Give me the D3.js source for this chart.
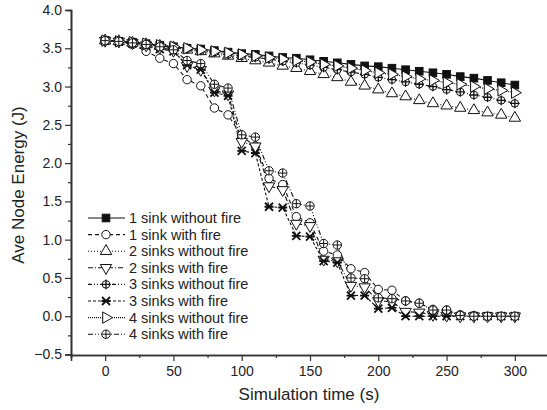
<!DOCTYPE html>
<html>
<head>
<meta charset="utf-8">
<script src="https://cdn.jsdelivr.net/npm/d3@7"></script>
<style>
  body { margin: 0; background: #fff; }
  svg text { font-family: "Liberation Sans", Arial, sans-serif; fill: #222; }
</style>
</head>
<body>
<svg id="chart" width="547" height="410"></svg>
<script>
// sample times (s)
var times = d3.range(0, 301, 10);

// energy per series (J)
var oneSinkNoFire = [3.60, 3.59, 3.58, 3.56, 3.54, 3.52, 3.50, 3.49, 3.47, 3.45, 3.43, 3.42, 3.40, 3.38, 3.37, 3.35,
  3.33, 3.31, 3.29, 3.27, 3.26, 3.24, 3.22, 3.20, 3.18, 3.16, 3.13, 3.11, 3.08, 3.05, 3.02];
var oneSinkFire = [3.60, 3.59, 3.55, 3.46, 3.37, 3.30, 3.09, 3.01, 2.72, 2.63, 2.35, 2.22, 1.80, 1.72, 1.30, 1.22,
  0.85, 0.80, 0.62, 0.57, 0.35, 0.34, 0.20, 0.17, 0.09, 0.08, 0.02, 0.01, 0.0, 0.0, 0.0];
var twoSinksNoFire = [3.60, 3.59, 3.57, 3.55, 3.53, 3.51, 3.48, 3.46, 3.43, 3.40, 3.37, 3.34, 3.31, 3.27, 3.24, 3.20,
  3.16, 3.12, 3.06, 3.01, 2.96, 2.91, 2.87, 2.82, 2.78, 2.75, 2.72, 2.69, 2.66, 2.63, 2.59];
var twoSinksFire = [3.60, 3.59, 3.57, 3.54, 3.51, 3.47, 3.27, 3.22, 2.95, 2.90, 2.28, 2.22, 1.70, 1.65, 1.21, 1.18,
  0.74, 0.72, 0.40, 0.38, 0.20, 0.19, 0.06, 0.05, 0.02, 0.01, 0.0, 0.0, 0.0, 0.0, 0.0];
var threeSinksNoFire = [3.60, 3.59, 3.57, 3.55, 3.53, 3.51, 3.49, 3.47, 3.45, 3.42, 3.40, 3.38, 3.36, 3.33, 3.31, 3.28,
  3.25, 3.22, 3.19, 3.16, 3.12, 3.09, 3.06, 3.03, 3.00, 2.96, 2.93, 2.89, 2.86, 2.82, 2.78];
var threeSinksFire = [3.60, 3.59, 3.56, 3.53, 3.49, 3.46, 3.28, 3.22, 2.92, 2.88, 2.16, 2.13, 1.43, 1.42, 1.05, 1.04,
  0.72, 0.70, 0.27, 0.27, 0.10, 0.11, 0.0, 0.0, 0.0, 0.0, 0.0, 0.0, 0.0, 0.0, 0.0];
var fourSinksNoFire = [3.60, 3.59, 3.58, 3.56, 3.54, 3.52, 3.50, 3.48, 3.46, 3.44, 3.42, 3.40, 3.38, 3.36, 3.34, 3.32,
  3.29, 3.27, 3.24, 3.21, 3.18, 3.16, 3.13, 3.10, 3.08, 3.05, 3.03, 3.00, 2.97, 2.95, 2.92];
var fourSinksFire = [3.60, 3.59, 3.57, 3.55, 3.52, 3.48, 3.34, 3.30, 3.03, 2.98, 2.37, 2.34, 1.90, 1.87, 1.47, 1.44,
  0.95, 0.93, 0.50, 0.49, 0.24, 0.23, 0.20, 0.17, 0.08, 0.08, 0.01, 0.0, 0.0, 0.0, 0.0];

var seriesNames = ["1 sink without fire", "1 sink with fire", "2 sinks without fire", "2 sinks with fire",
  "3 sinks without fire", "3 sinks with fire", "4 sinks without fire", "4 sinks with fire"];
var seriesValues = [oneSinkNoFire, oneSinkFire, twoSinksNoFire, twoSinksFire,
  threeSinksNoFire, threeSinksFire, fourSinksNoFire, fourSinksFire];

var xTicks = [0, 50, 100, 150, 200, 250, 300];
var yTicks = [-0.5, 0, 0.5, 1, 1.5, 2, 2.5, 3, 3.5, 4];

// look of each series: dash pattern + marker kind
var dashes = ["none", "4,3", "1,2", "5,2,1,2", "4,2,1,2,1,2", "3,2", "1,1", "5,2,1,2,1,2"];
var markers = ["square", "circle", "triUp", "triDown", "circlePlus", "cross", "triRight", "circleBar"];

var svg = d3.select("#chart");
var x = d3.scaleLinear().domain([-25, 325]).range([71, 549]);
var y = d3.scaleLinear().domain([-0.5, 4]).range([354.5, 10]);

// axes
var yAxis = d3.axisLeft(y).tickValues(yTicks).tickFormat(d3.format(".1f")).tickSize(6).tickPadding(3);
var yMinor = d3.axisLeft(y).tickValues(d3.range(-0.25, 4, 0.5)).tickFormat("").tickSize(3);
var xAxis = d3.axisBottom(x).tickValues(xTicks).tickFormat(d3.format("d")).tickSize(6).tickPadding(5);
var xMinor = d3.axisBottom(x).tickValues(d3.range(-25, 326, 50)).tickFormat("").tickSize(3);

function styleAxis(g) {
  g.select(".domain").attr("stroke", "#333").attr("stroke-width", 1.6);
  g.selectAll(".tick line").attr("stroke", "#333").attr("stroke-width", 1.2);
  g.selectAll(".tick text").attr("font-size", 14).attr("font-family", "Liberation Sans, Arial, sans-serif").attr("fill", "#222");
}
svg.append("g").attr("transform", "translate(71,0)").call(yMinor).call(styleAxis);
svg.append("g").attr("transform", "translate(71,0)").call(yAxis).call(styleAxis);
svg.append("g").attr("transform", "translate(0,355)").call(xMinor).call(styleAxis);
svg.append("g").attr("transform", "translate(0,355)").call(xAxis).call(styleAxis);

svg.append("text").attr("x", 309).attr("y", 400).attr("text-anchor", "middle")
  .attr("font-size", 17).text("Simulation time (s)");
svg.append("text").attr("transform", "translate(24,185) rotate(-90)").attr("text-anchor", "middle")
  .attr("font-size", 17).text("Ave Node Energy (J)");

// marker drawing
function drawMarker(g, kind, cx, cy) {
  var s = 3.8;
  var m = g.append("g").attr("transform", "translate(" + cx + "," + cy + ")")
    .attr("stroke", "#111").attr("stroke-width", 1).attr("fill", "#fff");
  if (kind == "square") {
    m.append("rect").attr("x", -s).attr("y", -s).attr("width", 2 * s).attr("height", 2 * s).attr("fill", "#111");
  } else if (kind == "circle") {
    m.append("circle").attr("r", s + 0.4);
  } else if (kind == "triUp" || kind == "triDown" || kind == "triRight") {
    var rot = kind == "triUp" ? 0 : (kind == "triDown" ? 180 : 90);
    m.append("path").attr("d", d3.symbol(d3.symbolTriangle, 56)()).attr("transform", "rotate(" + rot + ")");
  } else if (kind == "circlePlus") {
    m.append("circle").attr("r", s);
    m.append("path").attr("d", "M" + (-s - 1) + ",0H" + (s + 1) + "M0," + (-s - 1) + "V" + (s + 1)).attr("stroke-width", 1.3);
  } else if (kind == "cross") {
    m.append("path").attr("d", "M-4,-4L4,4M-4,4L4,-4M-4.5,0H4.5").attr("stroke-width", 1.8);
  } else if (kind == "circleBar") {
    m.append("circle").attr("r", s + 0.4);
    m.append("path").attr("d", "M0," + (-s - 0.4) + "V" + (s + 0.4) + "M" + (-s) + ",0H" + s);
  }
}

var line = d3.line().x(function(d, i) { return x(times[i]); }).y(function(d) { return y(d); });
var plot = svg.append("g");

seriesValues.forEach(function(vals, k) {
  plot.append("path").datum(vals).attr("d", line).attr("fill", "none")
    .attr("stroke", "#111").attr("stroke-width", 1.1)
    .attr("stroke-dasharray", dashes[k]);
});
seriesValues.forEach(function(vals, k) {
  vals.forEach(function(v, i) { drawMarker(plot, markers[k], x(times[i]), y(v)); });
});

// legend
var legend = svg.append("g");
seriesNames.forEach(function(name, k) {
  var ly = 218 + k * 16.6;
  legend.append("line").attr("x1", 88).attr("x2", 125).attr("y1", ly).attr("y2", ly)
    .attr("stroke", "#111").attr("stroke-width", 1.1).attr("stroke-dasharray", dashes[k]);
  drawMarker(legend, markers[k], 106, ly);
  legend.append("text").attr("x", 129).attr("y", ly + 5).attr("font-size", 14.5).text(name);
});
</script>
</body>
</html>
